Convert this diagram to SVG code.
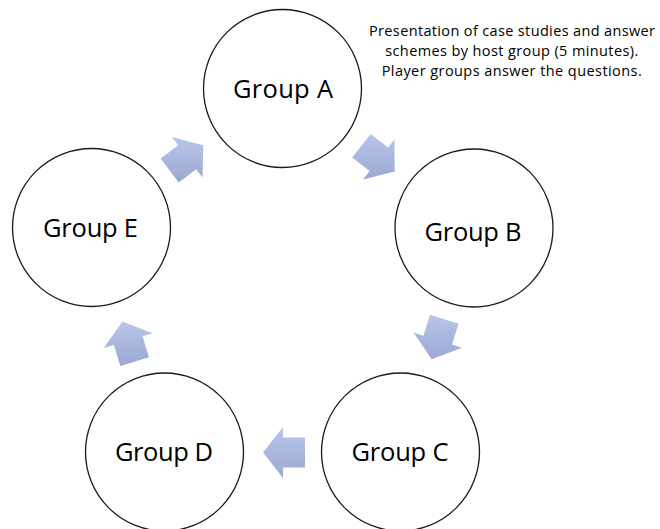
<svg xmlns="http://www.w3.org/2000/svg" width="660" height="529" viewBox="0 0 660 529">
<style>
.node circle{fill:#fff;stroke:#1a1a1a;stroke-width:1.3}
.node text{font-family:"Open Sans","Liberation Sans",sans-serif;font-size:25.5px;fill:#000;text-anchor:middle}
.note{font-family:"Open Sans","Liberation Sans",sans-serif;font-size:14.5px;fill:#000;text-anchor:middle}
.arrow{fill:url(#ag);stroke:none}
</style>
<defs>
<linearGradient id="ag" x1="0" y1="0" x2="0" y2="1">
<stop offset="0" stop-color="#b9c6e9"/>
<stop offset="1" stop-color="#9aa9d4"/>
</linearGradient>
</defs>
<rect width="660" height="529" fill="#fff"/>
<g id="connectors">
<polygon class="arrow" points="370.7,134 388,147.5 394.5,139.2 394.6,171.6 363.1,179.4 369.6,171.1 352.2,157.6"/>
<polygon class="arrow" points="458.6,323.7 452,344.6 462,347.8 431.7,359.2 413.4,332.5 423.4,335.7 430,314.7"/>
<polygon class="arrow" points="305,467.5 283,467.5 283,478 263,452.5 283,427 283,437.5 305,437.5"/>
<polygon class="arrow" points="120.3,366.1 113.9,345 103.8,348.1 122.4,321.5 152.6,333.2 142.6,336.3 149,357.3"/>
<polygon class="arrow" points="160.6,158.5 178.2,145.3 171.9,136.9 203.2,145.2 202.6,177.6 196.2,169.2 178.7,182.5"/>
</g>
<g id="groupA" class="node"><circle cx="282.5" cy="88.5" r="79"/><text x="283" y="98" textLength="100">Group A</text></g>
<g id="groupB" class="node"><circle cx="474" cy="228" r="79"/><text x="473" y="241" textLength="97">Group B</text></g>
<g id="groupC" class="node"><circle cx="400.5" cy="452" r="79"/><text x="400" y="461" textLength="97">Group C</text></g>
<g id="groupD" class="node"><circle cx="164.5" cy="452" r="79"/><text x="164" y="461" textLength="98">Group D</text></g>
<g id="groupE" class="node"><circle cx="91.5" cy="227.5" r="79"/><text x="90.5" y="237" textLength="95">Group E</text></g>
<g id="note">
<text class="note" x="512" y="36" textLength="286">Presentation of case studies and answer</text>
<text class="note" x="511.7" y="56" textLength="253">schemes by host group (5 minutes).</text>
<text class="note" x="511.7" y="76" textLength="260">Player groups answer the questions.</text>
</g>
</svg>
